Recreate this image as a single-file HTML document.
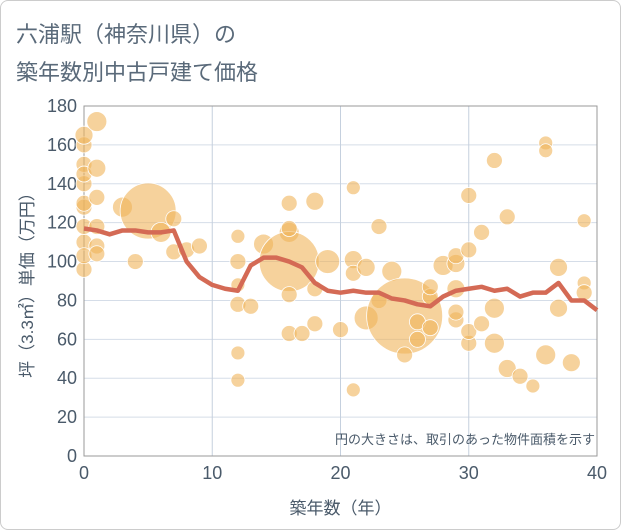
<!DOCTYPE html>
<html><head><meta charset="utf-8"><style>
body{margin:0;background:#fff;}
#wrap{position:relative;width:621px;height:530px;background:#fff;font-family:"Liberation Sans","Noto Sans CJK JP",sans-serif;}
#frame{position:absolute;left:0;top:0;width:619px;height:528px;border:1px solid #ccc;border-radius:8px;}
.title{position:absolute;left:16px;font-size:22px;color:#5a6a7a;}
</style></head><body>
<div id="wrap">
<div id="frame"></div>
<div class="title" style="top:17px">六浦駅（神奈川県）の</div>
<div class="title" style="top:55px">築年数別中古戸建て価格</div>
<svg id="chart" width="621" height="530" style="position:absolute;left:0;top:0"></svg>
</div>
<script>
const lineX=[0,1,2,3,4,5,6,7,8,9,10,11,12,13,14,15,16,17,18,19,20,21,22,23,24,25,26,27,28,29,30,31,32,33,34,35,36,37,38,39,40];
const lineY=[117,116,114,116,116,115,115,116,100,92,88,86,85,98,102,102,100,97,89,85,84,85,84,84,81,80,78,77,82,85,86,87,85,86,82,84,84,89,80,80,75];
const bubX=[0,0,0,0,0,0,0,0,0,0,0,1,1,1,1,1,1,3,4,5,6,7,7,8,9,12,12,12,12,12,12,13,14,16,16,16,16,16,16,17,18,18,18,19,20,21,21,21,21,22,22,23,23,24,25,25,26,26,27,27,27,28,29,29,29,29,29,30,30,30,30,31,31,32,32,32,33,33,34,35,36,36,36,37,37,38,39,39,39];
const bubY=[96,110,118,128,140,150,160,165,130,103,145,172,148,133,118,108,104,128,100,126,115,122,105,106,108,113,100,88,78,53,39,77,109,130,115,100,83,63,117,63,131,86,68,100,65,138,101,94,34,97,71,118,80,95,72,52,69,60,66,82,87,98,70,74,86,99,103,134,106,58,64,115,68,152,58,76,123,45,41,36,52,161,157,76,97,48,121,89,84];
const bubR=[8,8,8,8,8,8,8,9,8,8,8,10,9,8,8,8,8,10,8,28,10,8,8,8,8,7,8,7,8,7,7,8,10,8,10,30,8,8,8,8,9,8,8,12,8,7,9,8,7,9,12,8,8,10,38,8,8,8,8,8,8,10,8,8,9,9,8,8,8,8,8,8,8,8,10,10,8,9,8,7,10,7,7,9,9,9,7,7,8];
const xTicks=[0,10,20,30,40];
const yTicks=[0,20,40,60,80,100,120,140,160,180];
const NS='http://www.w3.org/2000/svg';
const svg=document.getElementById('chart');
const L=84,R=597,T=106,B=456;
const sx=v=>L+(v-0)/40*(R-L);
const sy=v=>B-(v/180)*(B-T);
function mk(tag,attrs){const e=document.createElementNS(NS,tag);for(const k in attrs)e.setAttribute(k,attrs[k]);svg.appendChild(e);return e;}
for(const t of yTicks){
 const g=mk('line',{x1:L,x2:R,y1:sy(t),y2:sy(t),stroke:'#d5dde8','stroke-width':1});
 
 
 const tx=mk('text',{x:L-7,y:sy(t)+6,'text-anchor':'end','font-size':18,fill:'#4a5a6a'});
 tx.textContent=t;
 
 
}
for(const t of xTicks){
 const g=mk('line',{x1:sx(t),x2:sx(t),y1:T,y2:B,stroke:'#c5d0de','stroke-width':1});
 
 
 const tx=mk('text',{x:sx(t),y:B+23,'text-anchor':'middle','font-size':18,fill:'#4a5a6a'});
 tx.textContent=t;
 
 
}
const fr=mk('rect',{x:L,y:T,width:R-L,height:B-T,fill:'none',stroke:'#999','stroke-width':1});


for(let i=0;i<bubX.length;i++){
 const c=mk('circle',{cx:sx(bubX[i]),cy:sy(bubY[i]),r:bubR[i],fill:'rgba(240,180,90,0.6)',stroke:'#fff','stroke-width':0.8});
 
 
}
let d='';
for(let i=0;i<lineX.length;i++)d+=(i?'L':'M')+sx(lineX[i])+' '+sy(lineY[i]);
const p=mk('path',{d:d,fill:'none',stroke:'#d46a55','stroke-width':4.5,'stroke-linejoin':'round'});


const note=mk('text',{x:R-2,y:B-12,'text-anchor':'end','font-size':13,fill:'#4a5a6a'});
note.textContent='円の大きさは、取引のあった物件面積を示す';


const xt=mk('text',{x:(L+R)/2,y:514,'text-anchor':'middle','font-size':17,fill:'#4a5a6a'});
xt.textContent='築年数（年）';


const yt=mk('text',{x:0,y:0,'text-anchor':'middle','font-size':17,fill:'#4a5a6a',transform:'translate(33,'+((T+B)/2)+') rotate(-90)'});
yt.textContent='坪（3.3㎡）単価（万円）';


</script>
</body></html>
